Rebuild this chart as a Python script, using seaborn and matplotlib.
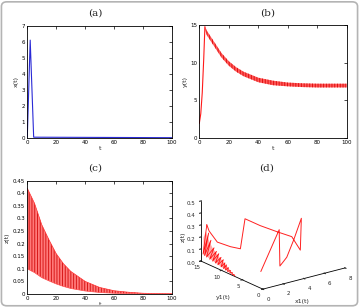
import matplotlib
matplotlib.use("Agg")
import matplotlib.pyplot as plt
import seaborn as sns
from matplotlib.patches import FancyBboxPatch

# (a) x(t)
t_a = [0, 2, 4.4, 100]
x_a = [0.05, 6.1, 0.05, 0.02]

# (b) y(t): rising part, then oscillating band (upper / lower edge)
t_b_rise = [0, 1, 2, 3, 3.8]
y_b_rise = [1.9, 3.2, 6.0, 10.5, 14.8]
t_b = [3.8, 5, 10, 15, 20, 25, 30, 40, 50, 60, 70, 80, 90, 100]
y_b_hi = [14.9, 14.3, 12.8, 11.3, 10.2, 9.4, 8.8, 8.0, 7.6, 7.35, 7.25, 7.2, 7.2, 7.2]
y_b_lo = [14.4, 13.7, 12.2, 10.7, 9.6, 8.8, 8.2, 7.4, 7.0, 6.85, 6.75, 6.7, 6.7, 6.7]

# (c) z(t): oscillating band
t_c = [0, 5, 10, 15, 20, 25, 30, 40, 50, 60, 70, 80, 90, 100]
z_c_hi = [0.42, 0.36, 0.275, 0.215, 0.16, 0.12, 0.09, 0.05, 0.026, 0.013, 0.007, 0.003, 0.0015, 0.001]
z_c_lo = [0.10, 0.085, 0.065, 0.052, 0.04, 0.03, 0.022, 0.012, 0.006, 0.003, 0.0015, 0.0008, 0.0004, 0.0002]

# (d) phase portrait: transient loops
loop_x = [0.61, 3.20, 3.35, 3.89, 4.34, 5.42, 6.56, 6.54, 6.03, 5.08, 3.76, 2.69, 2.32, 1.68, 0.80, 0.32, 0.26]
loop_y = [2.0, 4.0, 4.2, 4.6, 5.0, 6.0, 7.0, 7.2, 8.0, 9.0, 10.0, 11.0, 11.2, 12.0, 13.0, 13.8, 14.2]
loop_z = [0.102, 0.362, 0.053, 0.076, 0.092, 0.198, 0.336, 0.068, 0.179, 0.223, 0.290, 0.355, 0.110, 0.129, 0.171, 0.262, 0.309]
# (d) dense decaying oscillation near x1 = 0
dense_x = [0.26, 0.10, 0.20, 0.08, 0.18, 0.07, 0.16, 0.06, 0.15, 0.06, 0.14, 0.05, 0.12, 0.05, 0.10, 0.04,
           0.09, 0.04, 0.08, 0.03, 0.07, 0.03, 0.06, 0.02, 0.05, 0.02, 0.04, 0.02, 0.02]
dense_y = [14.2, 14.7, 13.6, 14.3, 13.0, 13.8, 12.2, 13.0, 11.6, 12.3, 11.0, 11.6, 10.4, 11.0, 9.8, 10.2,
           9.4, 9.6, 9.0, 9.1, 8.5, 8.6, 8.0, 8.0, 7.5, 7.5, 7.0, 7.0, 6.8]
dense_z = [0.309, 0.06, 0.25, 0.055, 0.20, 0.05, 0.15, 0.045, 0.13, 0.04, 0.12, 0.035, 0.10, 0.03, 0.09, 0.025,
           0.07, 0.02, 0.06, 0.016, 0.045, 0.012, 0.03, 0.009, 0.02, 0.006, 0.01, 0.004, 0.003]
# (d) envelope of the dense region (same y positions for top and bottom)
env_y = [14.6, 14.0, 13.2, 12.4, 11.5, 10.5, 9.5, 8.5, 7.6, 6.8]
env_top = [0.20, 0.26, 0.19, 0.15, 0.12, 0.095, 0.07, 0.045, 0.02, 0.003]
env_bot = [0.06, 0.055, 0.048, 0.042, 0.035, 0.028, 0.02, 0.012, 0.006, 0.003]
env_x = [0.1, 0.1, 0.1, 0.08, 0.07, 0.06, 0.05, 0.04, 0.03, 0.02]

sns.set_style("white")
plt.rcParams["font.family"] = ["DejaVu Sans"]
plt.rcParams["hatch.linewidth"] = 0.7

fig = plt.figure(figsize=(3.59, 3.07), dpi=100)


def style_2d(ax, xlabel, ylabel):
    ax.tick_params(direction="in", length=2, width=0.5, labelsize=4, pad=1.5,
                   top=True, right=True, colors="black")
    for s in ax.spines.values():
        s.set_linewidth(0.6)
        s.set_color("black")
    ax.set_xlabel(xlabel, fontsize=4.5, labelpad=1)
    ax.set_ylabel(ylabel, fontsize=4.5, labelpad=2)
    ax.set_xlim(0, 100)
    ax.set_xticks([0, 20, 40, 60, 80, 100])


# (a)
ax_a = fig.add_axes([27.3 / 359, 1 - 138 / 307, 144.7 / 359, 112.3 / 307])
sns.lineplot(x=t_a, y=x_a, ax=ax_a, color="#2a2ad6", lw=0.8)
ax_a.set_ylim(0, 7)
ax_a.set_yticks(range(0, 8))
style_2d(ax_a, "t", "x(t)")

# (b)
ax_b = fig.add_axes([199.3 / 359, 1 - 137.7 / 307, 147.4 / 359, 112.5 / 307])
sns.lineplot(x=t_b_rise, y=y_b_rise, ax=ax_b, color="#ff1a1a", lw=0.8)
ax_b.fill_between(t_b, y_b_lo, y_b_hi, facecolor="#ff5a5a", edgecolor="#e01010",
                  hatch="||||||", lw=0)
ax_b.set_ylim(0, 15)
ax_b.set_yticks([0, 5, 10, 15])
style_2d(ax_b, "t", "y(t)")

# (c)
ax_c = fig.add_axes([27.3 / 359, 1 - 294 / 307, 144.7 / 359, 113.3 / 307])
ax_c.fill_between(t_c, z_c_lo, z_c_hi, facecolor="#ff7a7a", edgecolor="#d81818",
                  hatch="||||||", lw=0)
sns.lineplot(x=t_c, y=z_c_hi, ax=ax_c, color="#ff3030", lw=0.5)
sns.lineplot(x=t_c, y=z_c_lo, ax=ax_c, color="#ff5050", lw=0.5)
ax_c.set_ylim(0, 0.45)
ax_c.set_yticks([0, 0.05, 0.1, 0.15, 0.2, 0.25, 0.3, 0.35, 0.4, 0.45])
ax_c.set_yticklabels(["0", "0.05", "0.1", "0.15", "0.2", "0.25", "0.3", "0.35", "0.4", "0.45"])
style_2d(ax_c, "t", "z(t)")

# (d)
ax_d = fig.add_axes([0.503, -0.022, 0.503, 0.503], projection="3d", proj_type="ortho")
ax_d.fill_between(env_x, env_y, env_bot, env_x, env_y, env_top,
                  facecolor="#ff4040", alpha=0.45, lw=0)
ax_d.plot(loop_x, loop_y, loop_z, color="#ff2020", lw=0.7)
ax_d.plot(dense_x, dense_y, dense_z, color="#ff1010", lw=0.6)
ax_d.set_xlim(0, 8)
ax_d.set_ylim(0, 15)
ax_d.set_zlim(0, 0.5)
ax_d.set_xticks([0, 2, 4, 6, 8])
ax_d.set_yticks([0, 5, 10, 15])
ax_d.set_zticks([0, 0.1, 0.2, 0.3, 0.4, 0.5])
ax_d.set_box_aspect((1, 1, 0.62))
ax_d.view_init(elev=20, azim=-127)
ax_d.grid(False)
for axis in (ax_d.xaxis, ax_d.yaxis, ax_d.zaxis):
    axis.pane.fill = False
    axis.pane.set_edgecolor((1, 1, 1, 0))
    axis.line.set_color("black")
    axis.line.set_linewidth(0.6)
ax_d.tick_params(labelsize=4, pad=-3)
ax_d.yaxis.set_tick_params(pad=-5)
ax_d.zaxis.set_tick_params(pad=-4)
fig.text(223 / 359, 1 - 298 / 307, "y1(t)", fontsize=4.5, ha="center", va="center")
fig.text(302 / 359, 1 - 301 / 307, "x1(t)", fontsize=4.5, ha="center", va="center")
fig.text(183 / 359, 1 - 237 / 307, "z(t)", fontsize=4.5, ha="center", va="center", rotation=90)

# panel letters
for x, y, s in [(95, 13, "(a)"), (268, 13, "(b)"), (95, 168, "(c)"), (267, 168, "(d)")]:
    fig.text(x / 359, 1 - y / 307, s, ha="center", va="center", fontsize=7.5,
             family=["DejaVu Serif"])

# rounded outer frame
fig.patches.append(FancyBboxPatch((0.004, 0.004), 0.992, 0.99,
                                  boxstyle="round,pad=0,rounding_size=0.015",
                                  transform=fig.transFigure, fill=False,
                                  edgecolor="#b4b4b4", lw=1.2))

fig.savefig("out.png", dpi=100)
